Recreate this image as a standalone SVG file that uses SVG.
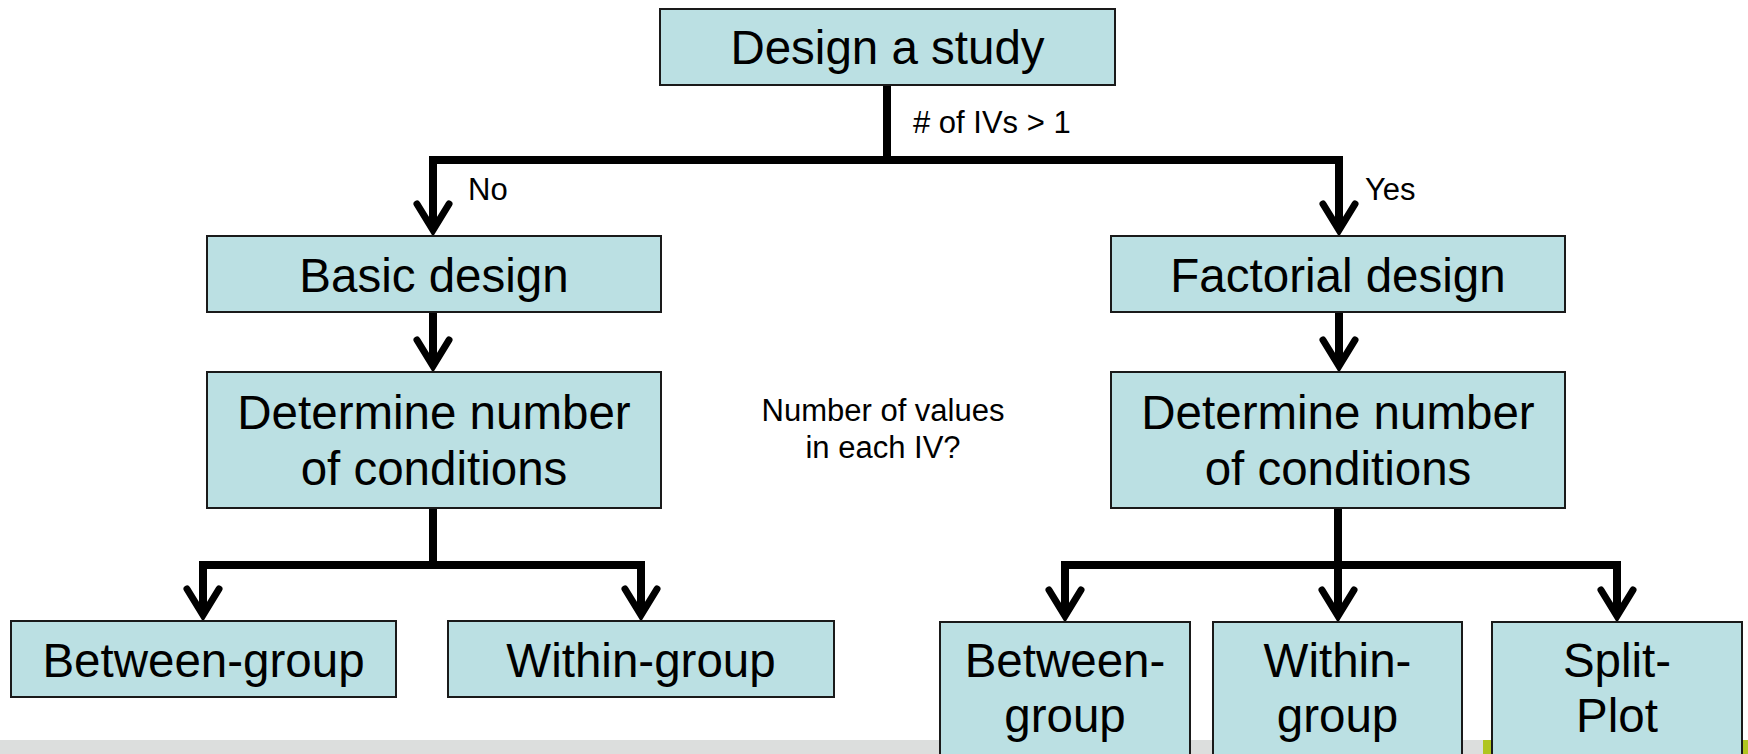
<svg xmlns="http://www.w3.org/2000/svg" width="1748" height="754" viewBox="0 0 1748 754">
<style>
.box{fill:#bbe0e3;stroke:#1a1a1a;stroke-width:2}
.big{font-family:"Liberation Sans",Arial,sans-serif;font-size:47.5px;fill:#000;text-anchor:middle}
.small{font-family:"Liberation Sans",Arial,sans-serif;font-size:31px;fill:#000}
.line{fill:none;stroke:#000;stroke-width:8;stroke-linejoin:miter}
.head{fill:none;stroke:#000;stroke-width:7;stroke-linejoin:miter;stroke-linecap:round}
</style>
<rect x="0" y="740" width="1483" height="14" fill="#dcdedd"/>
<rect x="1483" y="740" width="265" height="14" fill="#b0c520"/>
<g id="connectors">
<path class="line" d="M887 85 V160"/>
<path class="line" d="M433 230 V160 H1339 V230"/>
<path class="line" d="M433 312 V366"/>
<path class="line" d="M1339 312 V366"/>
<path class="line" d="M433 508 V565"/>
<path class="line" d="M203 615 V565 H641 V615"/>
<path class="line" d="M1338 508 V616"/>
<path class="line" d="M1065 616 V565 H1617 V616"/>
<path class="head" d="M417 204 L433 230 L449 204"/>
<path class="head" d="M1323 204 L1339 230 L1355 204"/>
<path class="head" d="M417 340 L433 366 L449 340"/>
<path class="head" d="M1323 340 L1339 366 L1355 340"/>
<path class="head" d="M187 589 L203 615 L219 589"/>
<path class="head" d="M625 589 L641 615 L657 589"/>
<path class="head" d="M1049 590 L1065 616 L1081 590"/>
<path class="head" d="M1322 590 L1338 616 L1354 590"/>
<path class="head" d="M1601 590 L1617 616 L1633 590"/>
</g>
<g id="labels">
<text class="small" x="913" y="133">#&#160;of IVs &gt; 1</text>
<text class="small" x="468" y="200">No</text>
<text class="small" x="1365" y="200">Yes</text>
<text class="small" x="883" y="421" text-anchor="middle">Number of values</text>
<text class="small" x="883" y="458" text-anchor="middle">in each IV?</text>
</g>
<g id="design-study"><rect class="box" x="660" y="9" width="455" height="76"/><text class="big" x="887.5" y="64">Design a study</text></g>
<g id="basic-design"><rect class="box" x="207" y="236" width="454" height="76"/><text class="big" x="434" y="292">Basic design</text></g>
<g id="basic-determine"><rect class="box" x="207" y="372" width="454" height="136"/><text class="big" x="434" y="429">Determine number</text><text class="big" x="434" y="485">of conditions</text></g>
<g id="factorial-design"><rect class="box" x="1111" y="236" width="454" height="76"/><text class="big" x="1338" y="292">Factorial design</text></g>
<g id="factorial-determine"><rect class="box" x="1111" y="372" width="454" height="136"/><text class="big" x="1338" y="429">Determine number</text><text class="big" x="1338" y="485">of conditions</text></g>
<g id="basic-between"><rect class="box" x="11" y="621" width="385" height="76"/><text class="big" x="203.5" y="677">Between-group</text></g>
<g id="basic-within"><rect class="box" x="448" y="621" width="386" height="76"/><text class="big" x="641" y="677">Within-group</text></g>
<g id="fact-between"><rect class="box" x="940" y="622" width="250" height="140"/><text class="big" x="1065" y="677">Between-</text><text class="big" x="1065" y="732">group</text></g>
<g id="fact-within"><rect class="box" x="1213" y="622" width="249" height="140"/><text class="big" x="1337.5" y="677">Within-</text><text class="big" x="1337.5" y="732">group</text></g>
<g id="fact-split"><rect class="box" x="1492" y="622" width="250" height="140"/><text class="big" x="1617" y="677">Split-</text><text class="big" x="1617" y="732">Plot</text></g>
</svg>
